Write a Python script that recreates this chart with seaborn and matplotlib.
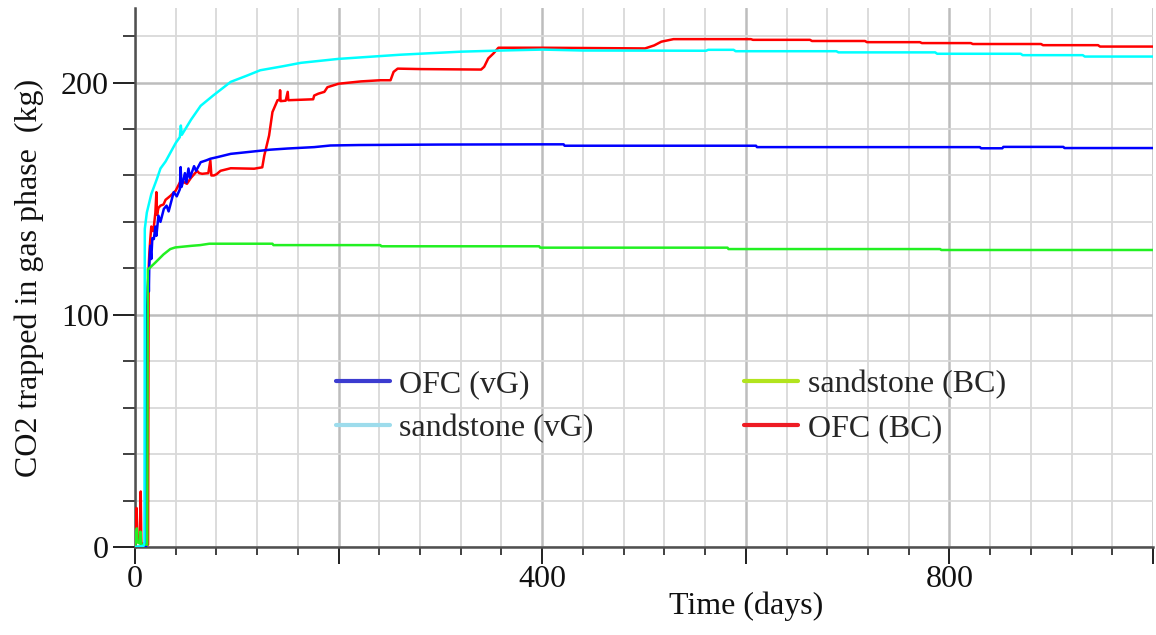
import numpy as np
import pandas as pd
import matplotlib
matplotlib.use("Agg")
import matplotlib.pyplot as plt
from matplotlib.lines import Line2D
from matplotlib.ticker import MultipleLocator, FuncFormatter
import seaborn as sns

# --- data (days, kg) ---
ofc_vg_days = [0, 10.8, 11.2, 11.8, 12.5, 13.3, 13.6, 14, 15, 16, 17, 18.5, 20, 21, 23, 25,
               28.3, 31, 33, 38, 41, 44, 44.8, 45.6, 47, 49, 50.5, 52.5, 54, 58, 60, 64.5,
               70, 74, 81, 94, 100.6, 133, 150, 176, 192, 220, 300, 399, 421, 422, 610, 611,
               830, 831, 852, 853, 912, 913, 1000]
ofc_vg_kg = [0, 0, 78, 100, 112, 118, 110, 121, 129.7, 124, 133, 132.6, 138, 134, 142.7, 140,
             145.6, 147, 144.5, 152.8, 151, 154, 163.6, 155, 157, 161, 157, 163, 159, 164, 162, 165.7,
             166.5, 167.2, 167.9, 169.3, 169.6, 171.1, 171.6, 172.2, 172.9, 173.1, 173.3, 173.4, 173.4, 172.8, 172.8, 172.2,
             172.2, 171.7, 171.7, 172.3, 172.3, 171.8, 171.8]

sand_vg_days = [0, 8.5, 9.3, 9.6, 11.6, 16, 21.5, 25, 30, 40, 44, 45, 46, 55, 64.5, 77, 94,
                110, 123, 145, 163, 200, 261, 320, 360, 400, 440, 561, 563, 588, 590, 689,
                691, 786, 788, 870, 872, 931, 933, 1000]
sand_vg_kg = [0, 0.5, 2, 137, 144, 152, 158.5, 163, 166, 174, 176.5, 181.5, 177.5, 184, 190, 194.5, 200.3,
              203, 205.3, 207, 208.5, 210.2, 212, 213.3, 213.8, 214.2, 213.8, 213.7, 214.1, 214.1, 213.5, 213.5,
              213.0, 213.0, 212.4, 212.4, 211.8, 211.8, 211.2, 211.2]

sand_bc_days = [0, 1.8, 2.4, 4.8, 5.3, 6, 12, 12.6, 13, 20, 28, 34.6, 39.5, 55.6, 64, 73,
                135, 136, 241, 242, 397, 398, 582, 583, 791, 792, 1000]
sand_bc_kg = [0, 8, 2, 1.5, 6.6, 1, 1, 119.6, 119.6, 122.5, 126, 128.3, 129, 129.7, 130.0, 130.6,
              130.6, 130.0, 130.0, 129.5, 129.5, 128.9, 128.9, 128.3, 128.3, 127.9, 127.9]

ofc_bc_days = [0, 1.5, 2.2, 4.5, 5.6, 6.2, 12.8, 13.4, 14, 15, 16, 18, 20, 21, 21.6, 23, 25,
               28, 30, 35, 40, 45, 51, 55, 61, 63, 66, 72, 74, 75, 77.5, 80, 84, 94, 117,
               125, 127, 131.7, 135, 140, 142, 142.5, 143, 148, 150, 150.6, 163, 175, 176,
               180, 186, 189, 200, 222, 241, 251, 254, 258, 281, 340, 343, 347, 352, 357,
               400, 501, 510, 517, 529, 605, 607, 663, 665, 717, 719, 771, 773, 821, 823,
               890, 892, 946, 948, 1000]
ofc_bc_kg = [0, 16.8, 3, 2, 23.9, 1.5, 1, 120, 126, 132.6, 138, 136, 144, 152.8, 143, 146, 147,
             147.5, 149.5, 151.3, 153.5, 157.8, 156.4, 159, 162, 161, 160.7, 161, 166.4, 160, 160, 160.5, 162, 163.1, 162.9,
             163.5, 168.6, 177.2, 187.3, 192.4, 192.5, 196.7, 192, 192.2, 196, 192.4, 192.6, 192.8, 194.4,
             195.2, 196, 198, 199.5, 200.5, 201, 201, 204.6, 206, 205.8, 205.6, 206.8, 210.4, 212.5, 215,
             215, 214.7, 216, 217.6, 218.7, 218.7, 218.4, 218.4, 217.9, 217.9, 217.4, 217.4, 217.0, 217.0, 216.6,
             216.6, 216.1, 216.1, 215.5, 215.5]

labels = ["OFC (vG)", "sandstone (vG)", "sandstone (BC)", "OFC (BC)"]
line_colors = ["#0000ff", "#00ffff", "#22f022", "#ff0000"]
legend_colors = ["#3c3cd0", "#9ddcec", "#b2e41e", "#ee1c24"]

sns.set_theme(style="white")
plt.rcParams['font.family'] = ['Liberation Serif', 'DejaVu Serif']

fig = plt.figure(figsize=(11.56, 6.35), dpi=100)
ax = fig.add_axes([0.1168, 0.1386, 0.8806, 0.8484])

series = {
    "OFC (vG)": (ofc_vg_days, ofc_vg_kg),
    "sandstone (vG)": (sand_vg_days, sand_vg_kg),
    "sandstone (BC)": (sand_bc_days, sand_bc_kg),
    "OFC (BC)": (ofc_bc_days, ofc_bc_kg),
}
# draw order: red, blue, green, cyan on top
for name in ["OFC (BC)", "OFC (vG)", "sandstone (BC)", "sandstone (vG)"]:
    d, k = series[name]
    sns.lineplot(x=d, y=k, color=line_colors[labels.index(name)], lw=1.8,
                 estimator=None, sort=False, ax=ax, zorder=3)

ax.set_xlim(0, 1000)
ax.set_ylim(0, 232)
ax.xaxis.set_major_locator(MultipleLocator(200))
ax.xaxis.set_minor_locator(MultipleLocator(40))
ax.yaxis.set_major_locator(MultipleLocator(100))
ax.yaxis.set_minor_locator(MultipleLocator(20))
ax.xaxis.set_major_formatter(FuncFormatter(lambda v, p: "%d" % v if int(round(v)) % 400 == 0 else ""))

ax.grid(True, which="major", color="#bdbdbd", lw=1.8, zorder=0)
ax.grid(True, which="minor", color="#d9d9d9", lw=1.3, zorder=0)
ax.set_axisbelow(True)

for s in ["top", "right"]:
    ax.spines[s].set_visible(False)
for s in ["left", "bottom"]:
    ax.spines[s].set_color("#505050")
    ax.spines[s].set_linewidth(1.8)

ax.tick_params(axis="x", which="major", direction="out", length=12, width=1.4, color="#202020",
               labelsize=23, pad=1, bottom=True)
ax.tick_params(axis="x", which="minor", direction="out", length=6, width=1.2, color="#202020", bottom=True)
ax.tick_params(axis="y", which="major", direction="out", length=16, width=1.4, color="#202020",
               labelsize=23, pad=3, left=True)
ax.tick_params(axis="y", which="minor", direction="out", length=9, width=1.2, color="#202020", left=True)
for t in ax.get_xticklabels() + ax.get_yticklabels():
    t.set_color("#111111")

ax.set_xlabel("Time (days)", fontsize=23, color="#111111")
ax.xaxis.set_label_coords(0.6, -0.083)
ax.set_ylabel("CO2 trapped in gas phase  (kg)", fontsize=23, color="#111111")
ax.yaxis.set_label_coords(-0.089, 0.5)

handles = [Line2D([], [], color=c, lw=3) for c in legend_colors]
ax.legend(handles, labels, ncol=2, frameon=False, fontsize=23, loc="center left",
          bbox_to_anchor=(0.197, 0.261), handlelength=1.7, handletextpad=0.3,
          columnspacing=4.7, labelspacing=0.45, borderpad=0, borderaxespad=0)

fig.savefig("out.png", dpi=100)
